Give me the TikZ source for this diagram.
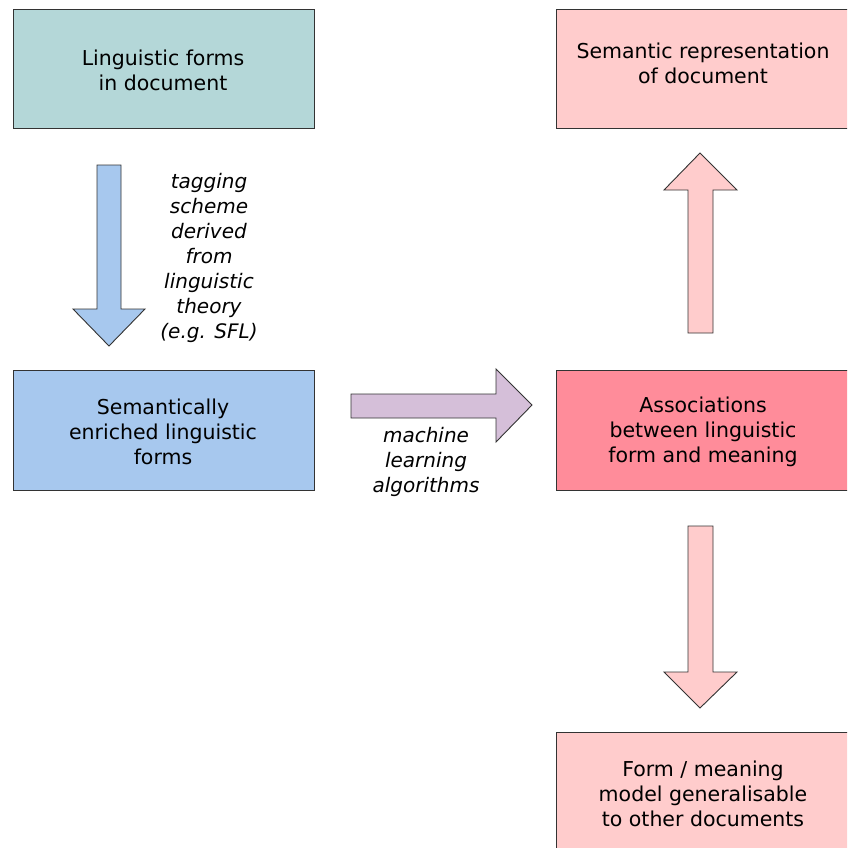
\documentclass[tikz,border=0pt]{standalone}
\usepackage{fontspec}
\setmainfont{DejaVu Sans}
\begin{document}
\begin{tikzpicture}[x=1pt,y=-1pt,
  box/.style={draw=black!80, line width=0.9pt, inner sep=0pt},
  txt/.style={align=center, font=\fontsize{20.5}{25}\selectfont, inner sep=0pt},
  lbl/.style={align=center, font=\fontsize{20}{25}\selectfont\itshape, inner sep=0pt},
  blockarrow/.style={draw=black!80, line width=0.9pt, line join=miter}]
\definecolor{tealbox}{HTML}{B4D7D8}
\definecolor{bluebox}{HTML}{A7C8EE}
\definecolor{pinkbox}{HTML}{FFCCCC}
\definecolor{redbox}{HTML}{FF8C9A}
\definecolor{lilac}{HTML}{D5BFD9}
\useasboundingbox (0,0) rectangle (847,848);
\clip (0,0) rectangle (847,848);

% boxes
\draw[box, fill=tealbox] (13,9) rectangle (314,128);
\node[txt] (forms) at (163,70) {Linguistic forms\\in document};

\draw[box, fill=pinkbox] (556,9) rectangle (851,128);
\node[txt] (rep) at (703,63) {Semantic representation\\of document};

\draw[box, fill=bluebox] (13,370) rectangle (314,490);
\node[txt] (enriched) at (163,432) {Semantically\\enriched linguistic\\forms};

\draw[box, fill=redbox] (556,370) rectangle (851,490);
\node[txt] (assoc) at (703,432) {Associations\\between linguistic\\form and meaning};

\draw[box, fill=pinkbox] (556,732) rectangle (851,856);
\node[txt] (model) at (703,794) {Form / meaning\\model generalisable\\to other documents};

% block arrows
\draw[blockarrow, fill=bluebox]
  (97,165) -- (121,165) -- (121,309) -- (145,309) -- (109,346)
  -- (73,309) -- (97,309) -- cycle;
\node[lbl] (tagging) at (209,258) {tagging\\scheme\\derived\\from\\linguistic\\theory\\(e.g. SFL)};

\draw[blockarrow, fill=lilac]
  (351,394) -- (496,394) -- (496,369) -- (532,405) -- (496,442)
  -- (496,418) -- (351,418) -- cycle;
\node[lbl] (ml) at (426,462) {machine\\learning\\algorithms};

\draw[blockarrow, fill=pinkbox]
  (688,333) -- (713,333) -- (713,190) -- (737,190) -- (700,153)
  -- (664,190) -- (688,190) -- cycle;

\draw[blockarrow, fill=pinkbox]
  (688,526) -- (713,526) -- (713,672) -- (737,672) -- (700,708)
  -- (664,672) -- (688,672) -- cycle;
\end{tikzpicture}
\end{document}
